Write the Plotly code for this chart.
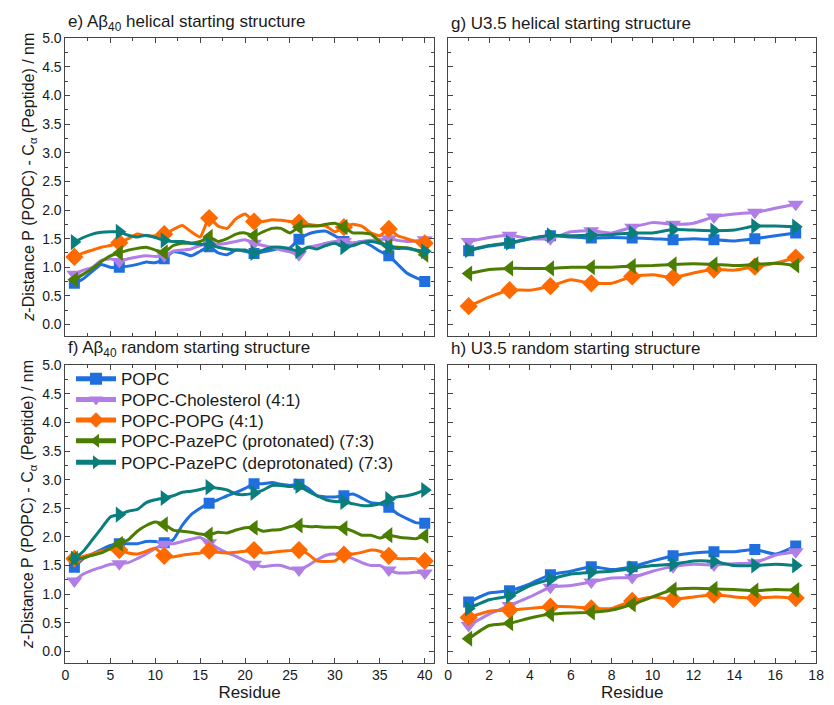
import plotly.graph_objects as go

# ---------------- data ----------------
series_names = ["POPC", "POPC-Cholesterol (4:1)", "POPC-POPG (4:1)",
                "POPC-PazePC (protonated) (7:3)", "POPC-PazePC (deprotonated) (7:3)"]
colors = ["#1F6FDE", "#B07EE6", "#FF6A00", "#4B7D00", "#0A7E7D"]
symbols = ["square", "triangle-down", "diamond", "triangle-left", "triangle-right"]
msizes = [11, 14, 14, 14, 14]

res_ab = list(range(1, 41))
mark_ab = [1, 6, 11, 16, 21, 26, 31, 36, 40]
res_u = list(range(1, 18))
mark_u = [1, 3, 5, 7, 9, 11, 13, 15, 17]

# e) Abeta40 helical
e_popc = [0.72, 0.80, 0.93, 1.05, 1.00, 1.00, 1.02, 1.05, 1.09, 1.08,
          1.15, 1.27, 1.25, 1.20, 1.28, 1.36, 1.25, 1.22, 1.30, 1.28,
          1.24, 1.27, 1.30, 1.33, 1.34, 1.49, 1.58, 1.62, 1.63, 1.55,
          1.45, 1.42, 1.45, 1.38, 1.28, 1.20, 1.05, 0.90, 0.82, 0.75]
e_chol = [0.88, 0.95, 1.00, 1.12, 1.15, 1.10, 1.15, 1.18, 1.20, 1.19,
          1.20, 1.28, 1.30, 1.32, 1.38, 1.42, 1.40, 1.42, 1.45, 1.48,
          1.42, 1.38, 1.35, 1.30, 1.27, 1.22, 1.35, 1.38, 1.42, 1.45,
          1.45, 1.42, 1.45, 1.47, 1.48, 1.50, 1.47, 1.45, 1.46, 1.48]
e_popg = [1.18, 1.25, 1.30, 1.35, 1.38, 1.43, 1.50, 1.58, 1.55, 1.55,
          1.58, 1.66, 1.73, 1.62, 1.53, 1.86, 1.72, 1.68, 1.85, 1.93,
          1.80, 1.80, 1.83, 1.82, 1.80, 1.78, 1.75, 1.73, 1.72, 1.62,
          1.70, 1.75, 1.72, 1.60, 1.55, 1.67, 1.55, 1.50, 1.45, 1.42]
e_prot = [0.78, 0.88, 0.98, 1.10, 1.20, 1.25, 1.30, 1.33, 1.35, 1.30,
          1.26, 1.38, 1.42, 1.42, 1.45, 1.53, 1.45, 1.50, 1.58, 1.60,
          1.55, 1.62, 1.68, 1.68, 1.60, 1.70, 1.72, 1.72, 1.75, 1.77,
          1.70, 1.60, 1.60, 1.58, 1.45, 1.37, 1.35, 1.34, 1.30, 1.22]
e_deprot = [1.44, 1.52, 1.58, 1.61, 1.62, 1.62, 1.56, 1.53, 1.56, 1.52,
            1.47, 1.45, 1.45, 1.42, 1.40, 1.40, 1.35, 1.32, 1.30, 1.30,
            1.25, 1.30, 1.35, 1.35, 1.32, 1.28, 1.35, 1.32, 1.38, 1.42,
            1.35, 1.38, 1.43, 1.45, 1.42, 1.35, 1.33, 1.33, 1.30, 1.28]

# f) Abeta40 random
f_popc = [1.47, 1.62, 1.70, 1.78, 1.85, 1.88, 1.88, 1.88, 1.92, 1.92,
          1.90, 1.95, 2.20, 2.39, 2.50, 2.59, 2.65, 2.72, 2.78, 2.85,
          2.93, 2.93, 2.95, 2.92, 2.90, 2.92, 2.85, 2.72, 2.70, 2.70,
          2.72, 2.75, 2.68, 2.60, 2.58, 2.52, 2.40, 2.32, 2.25, 2.24]
f_chol = [1.23, 1.35, 1.42, 1.47, 1.52, 1.53, 1.55, 1.62, 1.70, 1.80,
          1.87, 1.88, 1.92, 1.96, 1.99, 1.90, 1.80, 1.72, 1.66, 1.58,
          1.52, 1.48, 1.50, 1.50, 1.45, 1.42, 1.50, 1.60, 1.68, 1.70,
          1.67, 1.62, 1.55, 1.50, 1.50, 1.42, 1.37, 1.37, 1.38, 1.37]
f_popg = [1.62, 1.66, 1.70, 1.75, 1.78, 1.77, 1.72, 1.70, 1.75, 1.80,
          1.67, 1.65, 1.68, 1.70, 1.72, 1.76, 1.73, 1.72, 1.73, 1.75,
          1.77, 1.72, 1.73, 1.75, 1.76, 1.77, 1.70, 1.58, 1.57, 1.58,
          1.69, 1.70, 1.73, 1.77, 1.75, 1.67, 1.62, 1.62, 1.62, 1.58]
f_prot = [1.62, 1.63, 1.68, 1.72, 1.80, 1.88, 1.95, 2.10, 2.20, 2.26,
          2.22, 2.12, 2.10, 2.08, 2.05, 2.04, 2.08, 2.07, 2.12, 2.16,
          2.16, 2.10, 2.12, 2.13, 2.18, 2.20, 2.18, 2.18, 2.17, 2.17,
          2.15, 2.10, 2.03, 2.03, 1.98, 2.03, 2.00, 1.98, 1.97, 2.02]
f_deprot = [1.62, 1.75, 1.95, 2.15, 2.35, 2.39, 2.45, 2.48, 2.60, 2.65,
            2.68, 2.72, 2.78, 2.80, 2.83, 2.87, 2.85, 2.82, 2.75, 2.74,
            2.77, 2.82, 2.90, 2.90, 2.88, 2.89, 2.80, 2.72, 2.65, 2.62,
            2.61, 2.58, 2.55, 2.55, 2.58, 2.66, 2.70, 2.72, 2.76, 2.82]

# g) U3.5 helical
g_popc = [1.29, 1.37, 1.42, 1.50, 1.55, 1.53, 1.51, 1.52, 1.51, 1.50, 1.48, 1.50, 1.48, 1.46, 1.50, 1.55, 1.60]
g_chol = [1.45, 1.52, 1.56, 1.50, 1.50, 1.62, 1.64, 1.60, 1.70, 1.78, 1.75, 1.77, 1.88, 1.93, 1.96, 2.03, 2.10]
g_popg = [0.32, 0.48, 0.60, 0.60, 0.67, 0.78, 0.72, 0.72, 0.84, 0.87, 0.82, 0.90, 0.96, 0.95, 1.01, 1.07, 1.17]
g_prot = [0.89, 0.96, 0.98, 0.98, 0.98, 1.00, 1.00, 1.00, 1.02, 1.03, 1.05, 1.06, 1.05, 1.03, 1.05, 1.07, 1.03]
g_deprot = [1.30, 1.38, 1.43, 1.50, 1.56, 1.55, 1.56, 1.57, 1.60, 1.60, 1.66, 1.65, 1.64, 1.65, 1.72, 1.72, 1.71]

# h) U3.5 random
h_popc = [0.86, 1.02, 1.06, 1.18, 1.34, 1.40, 1.48, 1.43, 1.48, 1.58, 1.67, 1.72, 1.74, 1.74, 1.78, 1.70, 1.84]
h_chol = [0.45, 0.65, 0.80, 0.95, 1.12, 1.15, 1.21, 1.28, 1.29, 1.40, 1.48, 1.52, 1.51, 1.53, 1.55, 1.68, 1.74]
h_popg = [0.59, 0.70, 0.72, 0.75, 0.78, 0.78, 0.75, 0.75, 0.88, 0.95, 0.91, 0.95, 0.99, 0.95, 0.93, 0.95, 0.93]
h_prot = [0.22, 0.45, 0.49, 0.58, 0.65, 0.67, 0.68, 0.72, 0.82, 0.95, 1.08, 1.10, 1.09, 1.08, 1.06, 1.08, 1.07]
h_deprot = [0.75, 0.90, 0.97, 1.15, 1.26, 1.35, 1.38, 1.40, 1.45, 1.50, 1.52, 1.58, 1.57, 1.50, 1.50, 1.52, 1.50]

panels = [
    ("x", "y", res_ab, mark_ab, [e_popc, e_chol, e_popg, e_prot, e_deprot], False),
    ("x2", "y2", res_u, mark_u, [g_popc, g_chol, g_popg, g_prot, g_deprot], False),
    ("x3", "y3", res_ab, mark_ab, [f_popc, f_chol, f_popg, f_prot, f_deprot], True),
    ("x4", "y4", res_u, mark_u, [h_popc, h_chol, h_popg, h_prot, h_deprot], False),
]

titles = ["e) A\u03b2<sub>40</sub> helical starting structure",
          "g) U3.5 helical starting structure",
          "f) A\u03b2<sub>40</sub> random starting structure",
          "h) U3.5 random starting structure"]

FONT = "Liberation Sans, Arial, sans-serif"
TXT = "#1a1a1a"
W, H = 834, 705

legend_ids = ["legend", "legend2", "legend3", "legend4", "legend5"]

fig = go.Figure()
for xa, ya, res, marks, data, show in panels:
    for i, vals in enumerate(data):
        sizes = [msizes[i] if r in marks else 0 for r in res]
        fig.add_trace(go.Scatter(
            x=res, y=vals, xaxis=xa, yaxis=ya, mode="lines+markers",
            name=series_names[i], showlegend=show, legend=legend_ids[i],
            line=dict(color=colors[i], width=3, shape="spline", smoothing=0.5),
            marker=dict(symbol=symbols[i], size=sizes, color=colors[i],
                        opacity=1, line=dict(width=0)),
        ))

# domains from pixel geometry
def px_x(a, b):
    return [a / W, b / W]

def px_y(top, bottom):
    return [(H - bottom) / H, (H - top) / H]

xl = px_x(62.3, 436)
xr = px_x(450.7, 824)
yt = px_y(30.7, 331.7)
yb = px_y(361.5, 662.2)

axcol = "#444444"
common = dict(showline=True, linecolor=axcol, linewidth=1, mirror="ticks",
              ticks="inside", ticklen=5, tickwidth=1, tickcolor=axcol,
              showgrid=False, zeroline=False,
              tickfont=dict(family=FONT, size=14, color=TXT))

def yax(domain, anchor, labels):
    return dict(common, domain=domain, anchor=anchor, range=[-0.2, 5.0],
                tick0=0, dtick=0.5, tickformat=".1f", showticklabels=labels,
                minor=dict(ticks="inside", ticklen=3, tickcolor=axcol, dtick=0.25, tick0=0))

def xax(domain, anchor, rng, dt, labels, title=None):
    d = dict(common, domain=domain, anchor=anchor, range=rng, tick0=0, dtick=dt,
             showticklabels=labels,
             minor=dict(ticks="inside", ticklen=3, tickcolor=axcol, dtick=dt / 2, tick0=0))
    if title:
        d["title"] = dict(text=title, font=dict(family=FONT, size=17, color=TXT), standoff=0)
    return d

layout = dict(
    width=W, height=H,
    margin=dict(l=0, r=0, t=0, b=0),
    paper_bgcolor="white", plot_bgcolor="white",
    font=dict(family=FONT, color=TXT),
    xaxis=xax(xl, "y", [0, 41], 5, False),
    yaxis=yax(yt, "x", True),
    xaxis2=xax(xr, "y2", [0, 18], 2, False),
    yaxis2=yax(yt, "x2", False),
    xaxis3=xax(xl, "y3", [0, 41], 5, True, "Residue"),
    yaxis3=yax(yb, "x3", True),
    xaxis4=xax(xr, "y4", [0, 18], 2, True, "Residue"),
    yaxis4=yax(yb, "x4", False),
    showlegend=True,
)

legend_rows = [375.5, 396.5, 417.2, 438.2, 459.9]
for lid, ry in zip(legend_ids, legend_rows):
    layout[lid] = dict(x=68 / W, y=(H - ry) / H, xanchor="left", yanchor="middle",
                       bgcolor="rgba(0,0,0,0)", borderwidth=0, itemsizing="constant",
                       itemwidth=40,
                       font=dict(family=FONT, size=17, color=TXT))
fig.update_layout(**layout)

title_pos = [(63, 15), (451, 16), (63, 345), (451, 344)]
for t, (tx, ty) in zip(titles, title_pos):
    fig.add_annotation(text=t, xref="paper", yref="paper", x=tx / W, y=(H - ty) / H,
                       xanchor="left", yanchor="middle", showarrow=False,
                       font=dict(family=FONT, size=17, color=TXT))

ytitle = "<i>z</i>-Distance P (POPC) - C<sub>\u03b1</sub> (Peptide) / nm"
for cy in [171, 502]:
    fig.add_annotation(text=ytitle, xref="paper", yref="paper", x=25 / W, y=(H - cy) / H,
                       xanchor="center", yanchor="middle", textangle=-90, showarrow=False,
                       font=dict(family=FONT, size=16, color=TXT))

fig.write_html("out.html")
